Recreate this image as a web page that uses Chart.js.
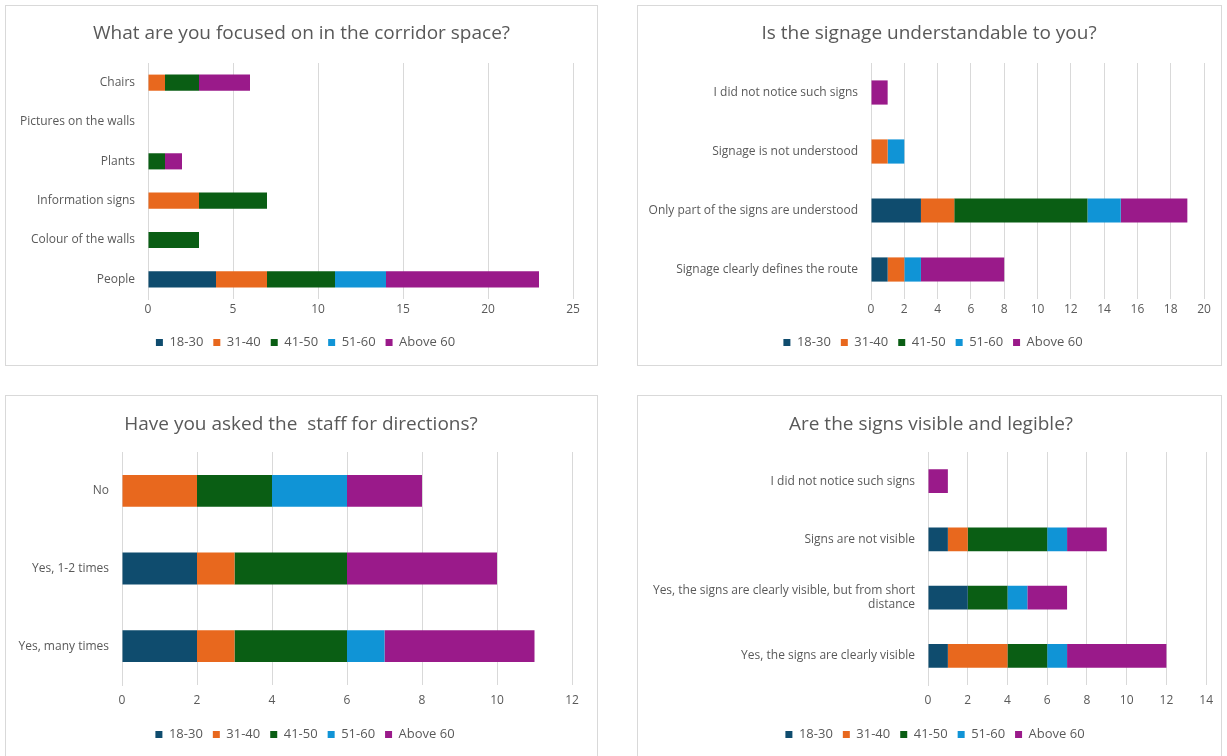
<!DOCTYPE html>
<html>
<head>
<meta charset="utf-8">
<script src="https://cdn.jsdelivr.net/npm/chart.js@4/dist/chart.umd.min.js"></script>
<style>
    html, body { margin: 0; padding: 0; background: #fff; overflow: hidden; }
    body { width: 1227px; height: 756px; position: relative; }
    .panel { position: absolute; border: 1px solid #d9d9d9; background: #fff; }
    .panel canvas { display: block; }
    #p1 { left: 5px; top: 5px; width: 591px; height: 359px; }
    #p2 { left: 637px; top: 5px; width: 583px; height: 359px; }
    #p3 { left: 5px; top: 395px; width: 591px; height: 363px; }
    #p4 { left: 637px; top: 395px; width: 583px; height: 363px; }
</style>
</head>
<body>
<div class="panel" id="p1"><canvas id="c1" width="591" height="359"></canvas></div>
<div class="panel" id="p2"><canvas id="c2" width="583" height="359"></canvas></div>
<div class="panel" id="p3"><canvas id="c3" width="591" height="363"></canvas></div>
<div class="panel" id="p4"><canvas id="c4" width="583" height="363"></canvas></div>
<script>
// ---------------------------------------------------------------
// Données
// ---------------------------------------------------------------
var ageGroups = ['18-30', '31-40', '41-50', '51-60', 'Above 60'];

// 1. What are you focused on in the corridor space?
var focusCategories = ['Chairs', 'Pictures on the walls', 'Plants', 'Information signs', 'Colour of the walls', 'People'];
var focusCounts = [
    [0, 0, 0, 0, 0, 4],   // 18-30
    [1, 0, 0, 3, 0, 3],   // 31-40
    [2, 0, 1, 4, 3, 4],   // 41-50
    [0, 0, 0, 0, 0, 3],   // 51-60
    [3, 0, 1, 0, 0, 9]    // Above 60
];

// 2. Is the signage understandable to you?
var signageCategories = ['I did not notice such signs', 'Signage is not understood', 'Only part of the signs are understood', 'Signage clearly defines the route'];
var signageCounts = [
    [0, 0, 3, 1],
    [0, 1, 2, 1],
    [0, 0, 8, 0],
    [0, 1, 2, 1],
    [1, 0, 4, 5]
];

// 3. Have you asked the staff for directions?
var staffCategories = ['No', 'Yes, 1-2 times', 'Yes, many times'];
var staffCounts = [
    [0, 2, 2],
    [2, 1, 1],
    [2, 3, 3],
    [2, 0, 1],
    [2, 4, 4]
];

// 4. Are the signs visible and legible?
var visibleCategories = ['I did not notice such signs', 'Signs are not visible', ['Yes, the signs are clearly visible, but from short', 'distance'], 'Yes, the signs are clearly visible'];
var visibleCounts = [
    [0, 1, 2, 1],
    [0, 1, 0, 3],
    [0, 4, 2, 2],
    [0, 1, 1, 1],
    [1, 2, 2, 5]
];

// ---------------------------------------------------------------
// Styles
// ---------------------------------------------------------------
var couleurs = ['#0f4c6e', '#e8681e', '#0a5e14', '#1094d6', '#9a1a8a'];
var gris = '#595959';
var grille = '#d9d9d9';
var police = "'Open Sans', sans-serif";

// décale titre et légende vers la droite (centrés comme dans Excel)
var decalage = {
    id: 'decalage',
    afterLayout: function (chart, args, o) {
        if (chart.titleBlock) { chart.titleBlock.left += o.titre; chart.titleBlock.right += o.titre; }
        if (chart.legend) { chart.legend.left += o.legende; chart.legend.right += o.legende; }
    }
};

function buildChart(id, titre, categories, counts, opts) {
    var ctx = document.getElementById(id).getContext('2d');
    var datasets = ageGroups.map(function (g, i) {
        return {
            label: g,
            data: counts[i],
            backgroundColor: couleurs[i],
            borderWidth: 0,
            barPercentage: 0.41,
            categoryPercentage: 1
        };
    });

    return new Chart(ctx, {
        type: 'bar',
        data: { labels: categories, datasets: datasets },
        plugins: [decalage],
        options: {
            responsive: false,
            animation: false,
            indexAxis: 'y',
            layout: { padding: { left: 0, right: opts.padRight, top: 0, bottom: opts.padBottom } },
            plugins: {
                decalage: { titre: opts.dx, legende: opts.dx + 4 },
                title: {
                    display: true,
                    text: titre,
                    color: gris,
                    font: { family: police, size: 19, weight: 'normal' },
                    padding: { top: opts.titleTop, bottom: opts.titleBottom }
                },
                legend: {
                    position: 'bottom',
                    labels: {
                        boxWidth: 7,
                        boxHeight: 7,
                        padding: 10,
                        color: gris,
                        font: { family: police, size: 13 }
                    }
                },
                tooltip: { enabled: false }
            },
            scales: {
                x: {
                    stacked: true,
                    min: 0,
                    max: opts.max,
                    ticks: { stepSize: opts.step, color: gris, font: { family: police, size: 12 }, padding: opts.tickPad },
                    grid: { color: grille, drawTicks: false },
                    border: { display: false },
                    afterFit: function (scale) { scale.height = opts.xHeight; }
                },
                y: {
                    stacked: true,
                    ticks: { color: gris, font: { family: police, size: 12 }, padding: 13 },
                    grid: { display: false, drawTicks: false },
                    border: { display: true, color: grille },
                    // largeur fixe pour caler le début des barres
                    afterFit: function (scale) { scale.width = opts.plotLeft; }
                }
            }
        }
    });
}

var hautOpts = { titleTop: 16, titleBottom: 18.2, tickPad: 3, xHeight: 27, padBottom: 6 };
var basOpts = { titleTop: 17, titleBottom: 16.2, tickPad: 8, xHeight: 33, padBottom: 8 };

buildChart('c1', 'What are you focused on in the corridor space?', focusCategories, focusCounts,
    Object.assign({ max: 25, step: 5, plotLeft: 142, padRight: 24, dx: 12 }, hautOpts));
buildChart('c2', 'Is the signage understandable to you?', signageCategories, signageCounts,
    Object.assign({ max: 20, step: 2, plotLeft: 233, padRight: 17, dx: 8 }, hautOpts));
buildChart('c3', 'Have you asked the  staff for directions?', staffCategories, staffCounts,
    Object.assign({ max: 12, step: 2, plotLeft: 116, padRight: 25, dx: 12 }, basOpts));
buildChart('c4', 'Are the signs visible and legible?', visibleCategories, visibleCounts,
    Object.assign({ max: 14, step: 2, plotLeft: 290, padRight: 13, dx: 8 }, basOpts));
</script>
</body>
</html>
